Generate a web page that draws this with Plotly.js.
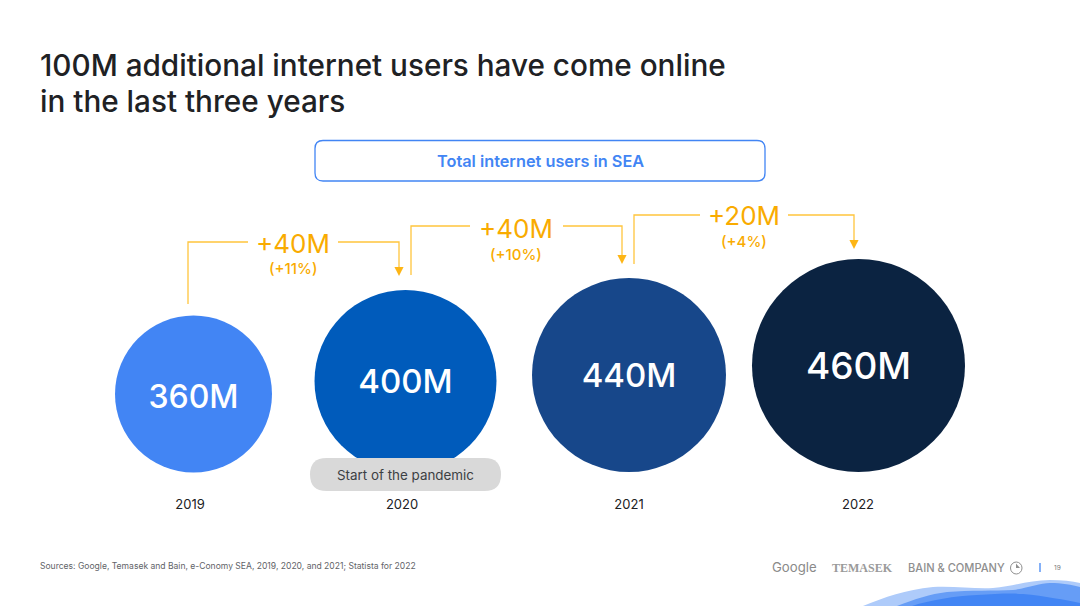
<!DOCTYPE html>
<html><head><meta charset="utf-8">
<script src="https://cdn.plot.ly/plotly-3.0.1.min.js"></script>
<style>html,body{margin:0;padding:0;background:#fff}#c{width:1080px;height:606px}</style></head>
<body><div id="c"></div>
<script>
const years = ['2019','2020','2021','2022'];
const users = [360,400,440,460];
const deltas = ['+40M','+40M','+20M'];
const deltaPct = ['(+11%)','(+10%)','(+4%)'];
const bubbleColors = ['#4285F4','#005BBB','#17478A','#0B2341'];

// layout-only geometry, in page pixels
const W=1080,H=606;
const cx=[193.5,405.5,629,858.5], cy=[394,381,375,365.5], dia=[157,182,194,213];
const labelY=[399.5,384.5,379,369.5], labelSize=[32,33,33,37];
const yearX=[190,402,629,858];
const FONT='Inter, sans-serif';
const AMBER='#F9AB00', LINE='#FFC53D';
const conn=[
 {x0:188,y0:304,top:242,gapL:248,gapR:338,x1:399,y1:276,lx:293,ly:243,py:268},
 {x0:411,y0:275,top:226,gapL:470,gapR:563,x1:622,y1:264,lx:516,ly:228,py:254},
 {x0:634,y0:264,top:215,gapL:700,gapR:788,x1:854,y1:249,lx:744,ly:215,py:241}
];
function rr(x0,y0,x1,y1,r){return `M${x0+r},${y0}L${x1-r},${y0}Q${x1},${y0} ${x1},${y0+r}L${x1},${y1-r}Q${x1},${y1} ${x1-r},${y1}L${x0+r},${y1}Q${x0},${y1} ${x0},${y1-r}L${x0},${y0+r}Q${x0},${y0} ${x0+r},${y0}Z`;}
const shapes=[],ann=[];
function txt(x,y,text,size,color,opt){ann.push(Object.assign({x,y,xref:'x',yref:'y',text,showarrow:false,xanchor:'center',yanchor:'middle',font:{family:FONT,size,color}},opt||{}));}
conn.forEach((c,i)=>{
 shapes.push({type:'path',path:`M${c.x0},${c.y0}L${c.x0},${c.top}L${c.gapL},${c.top}`,xref:'x',yref:'y',line:{color:LINE,width:1.3}});
 shapes.push({type:'path',path:`M${c.gapR},${c.top}L${c.x1},${c.top}L${c.x1},${c.y1-6}`,xref:'x',yref:'y',line:{color:LINE,width:1.3}});
 ann.push({x:c.x1,y:c.y1,ax:c.x1,ay:c.y1-8,xref:'x',yref:'y',axref:'x',ayref:'y',text:'',showarrow:true,arrowhead:2,arrowsize:1.4,arrowwidth:1.3,arrowcolor:'#FDB515'});
 txt(c.lx,c.ly,deltas[i],26,AMBER,{font:{family:FONT,size:26,color:AMBER,weight:400}});
 txt(c.lx,c.py,deltaPct[i],15,AMBER,{font:{family:FONT,size:15,color:AMBER,weight:500}});
});
// header
txt(40,64.5,'100M additional internet users have come online',29.7,'#202124',{xanchor:'left',xshift:-2,font:{family:FONT,size:29.7,color:'#202124',weight:500}});
txt(40,100.5,'in the last three years',29.7,'#202124',{xanchor:'left',xshift:-2,font:{family:FONT,size:29.7,color:'#202124',weight:500}});
shapes.push({type:'path',path:rr(315,140.5,765,181,8),xref:'x',yref:'y',fillcolor:'#fff',line:{color:'#4285F4',width:1.3}});
txt(540,161,'Total internet users in SEA',16.3,'#4285F4',{font:{family:FONT,size:16.3,color:'#4285F4',weight:600}});
// pandemic pill
shapes.push({type:'path',path:rr(310,458,501,491,16.5),xref:'x',yref:'y',fillcolor:'#D9D9D9',line:{width:0}});
txt(405.5,475,'Start of the pandemic',13.4,'#3C4043');
// footer
txt(40,566,'Sources: Google, Temasek and Bain, e-Conomy SEA, 2019, 2020, and 2021; Statista for 2022',8.55,'#5F6368',{xanchor:'left',xshift:-2});
txt(794,567,'Google',13.2,'#8A8A8A',{font:{family:FONT,size:13.2,color:'#8A8A8A'}});
txt(862,567.5,'TEMASEK',12,'#9A9A9A',{font:{family:'Liberation Serif, serif',size:12,color:'#9A9A9A',weight:700}});
txt(956.5,567.5,'BAIN &amp; COMPANY',11.1,'#8F8F8F',{font:{family:FONT,size:11.1,color:'#8F8F8F',weight:500}});
txt(1057,567.5,'19',6.5,'#777');
shapes.push({type:'circle',x0:1010.5,x1:1022,y0:562,y1:574,xref:'x',yref:'y',line:{color:'#8F8F8F',width:1}});
shapes.push({type:'path',path:'M1016,563.5L1016,568L1020,568Z',xref:'x',yref:'y',fillcolor:'#8F8F8F',line:{width:0}});
shapes.push({type:'line',x0:1040,x1:1040,y0:563,y1:572,xref:'x',yref:'y',line:{color:'#669DF6',width:1.6}});
// waves
shapes.push({type:'path',path:'M863,606C885,597 905,590 933,587C955,586 975,589 993,588C1015,586 1030,580 1050,580C1062,580 1072,581 1080,583L1080,606Z',xref:'x',yref:'y',fillcolor:'#AECBFA',line:{width:0}});
shapes.push({type:'path',path:'M897,606C915,599 930,594 947,592C970,590 995,591 1013,590C1028,588 1040,583 1050,583C1062,583 1072,585 1080,587L1080,606Z',xref:'x',yref:'y',fillcolor:'#669DF6',line:{width:0}});
shapes.push({type:'path',path:'M912,606C930,600 955,596 977,595C995,594 1010,593 1023,594C1045,596 1065,600 1080,603L1080,606Z',xref:'x',yref:'y',fillcolor:'#4285F4',line:{width:0}});

const bubbles={type:'scatter',mode:'markers',x:cx,y:cy,
 marker:{size:dia,sizemode:'diameter',color:bubbleColors,line:{width:0},opacity:1},
 cliponaxis:false,hoverinfo:'skip'};
const labels={type:'scatter',mode:'text',x:cx,y:labelY,
 text:users.map(v=>v+'M'),textposition:'middle center',
 textfont:{family:FONT,size:labelSize,color:'#fff',weight:500},
 cliponaxis:false,hoverinfo:'skip'};
Plotly.newPlot('c',[bubbles,labels],{
 width:W,height:H,margin:{l:0,r:0,t:0,b:0},paper_bgcolor:'#fff',plot_bgcolor:'#fff',showlegend:false,
 xaxis:{range:[0,W],tickmode:'array',tickvals:yearX,ticktext:years,anchor:'free',position:1-495/H,
  showgrid:false,zeroline:false,showline:false,ticks:'',tickfont:{family:FONT,size:13,color:'#202124'},automargin:false},
 yaxis:{range:[H,0],visible:false,showgrid:false,zeroline:false},
 shapes,annotations:ann
},{staticPlot:true,displayModeBar:false});
</script></body></html>
